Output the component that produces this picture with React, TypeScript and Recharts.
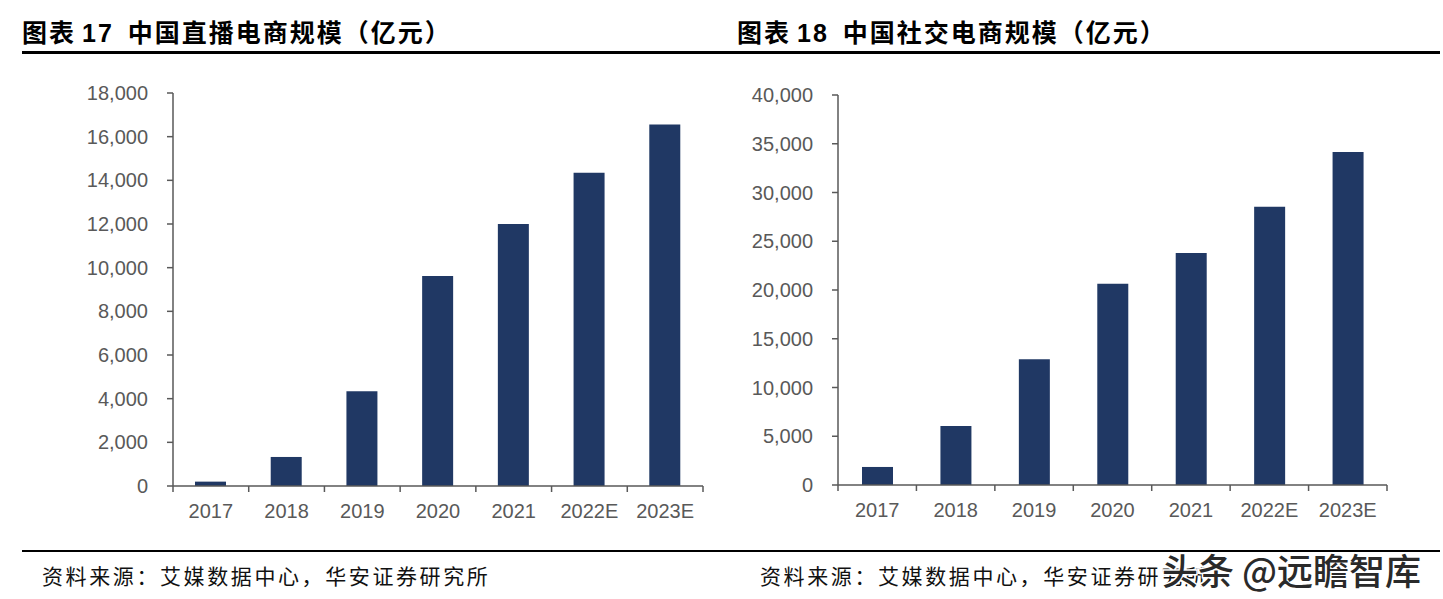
import { BarChart, Bar, XAxis, YAxis } from "recharts";

// 数据（亿元）
const years = ["2017", "2018", "2019", "2020", "2021", "2022E", "2023E"];
const liveValues = [200, 1330, 4340, 9620, 12000, 14350, 16560];
const socialValues = [1850, 6050, 12900, 20650, 23800, 28550, 34150];
const liveTicks = [0, 2000, 4000, 6000, 8000, 10000, 12000, 14000, 16000, 18000];
const socialTicks = [0, 5000, 10000, 15000, 20000, 25000, 30000, 35000, 40000];

const titleLeft = "中国直播电商规模（亿元）";
const titleRight = "中国社交电商规模（亿元）";
const source = "资料来源：艾媒数据中心，华安证券研究所";

const AXIS = "#595959";
const BAR = "#203864";
const NUM_FONT = "'Liberation Sans', Arial, sans-serif";
const CJK = "'Noto Sans CJK SC', sans-serif";

const fmt = (v: number) => v.toLocaleString("en-US");

// 分类标签 + 分类之间的刻度线（Excel 样式）
function CatTick(props: any) {
  const { x, y, payload, index, visibleTicksCount, width } = props;
  const half = payload?.offset ?? (width ? width / years.length / 2 : 38);
  const last = index === (visibleTicksCount ?? years.length) - 1;
  return (
    <g>
      <line x1={x - half} x2={x - half} y1={y} y2={y + 6} stroke={AXIS} strokeWidth={1.5} />
      {last && <line x1={x + half} x2={x + half} y1={y} y2={y + 6} stroke={AXIS} strokeWidth={1.5} />}
      <text x={x} y={y + 32} textAnchor="middle" fill={AXIS} fontSize={20} fontFamily={NUM_FONT}>
        {payload.value}
      </text>
    </g>
  );
}

type PanelProps = {
  values: number[];
  ticks: number[];
  left: number;
  width: number;
  top: number;
  plotHeight: number;
  yWidth: number;
  right: number;
  height: number;
};

function Panel({ values, ticks, left, width, top, plotHeight, yWidth, right, height }: PanelProps) {
  const data = years.map((year, i) => ({ year, value: values[i] }));
  return (
    <div style={{ position: "absolute", left, top: 0 }}>
      <BarChart width={width} height={height} data={data} margin={{ top, right, bottom: 0, left: 0 }}>
        <XAxis
          dataKey="year"
          interval={0}
          height={height - top - plotHeight}
          axisLine={{ stroke: AXIS, strokeWidth: 1.5 }}
          tickLine={false}
          tickSize={0}
          tickMargin={0}
          tick={<CatTick />}
        />
        <YAxis
          type="number"
          domain={[0, ticks[ticks.length - 1]]}
          ticks={ticks}
          interval={0}
          width={yWidth}
          tickSize={6}
          tickMargin={19}
          tickFormatter={fmt}
          axisLine={{ stroke: AXIS, strokeWidth: 1.5 }}
          tickLine={{ stroke: AXIS, strokeWidth: 1.5 }}
          tick={{ fill: AXIS, fontSize: 20, fontFamily: NUM_FONT }}
        />
        <Bar dataKey="value" fill={BAR} barSize={31} isAnimationActive={false} />
      </BarChart>
    </div>
  );
}

function Title({ num, text, left }: { num: string; text: string; left: number }) {
  return (
    <div
      style={{
        position: "absolute",
        left,
        top: 15,
        fontFamily: CJK,
        fontWeight: 700,
        fontSize: 25,
        letterSpacing: 2,
        lineHeight: "32px",
        color: "#000",
        whiteSpace: "nowrap",
      }}
    >
      图表
      <span style={{ fontFamily: "'Liberation Sans', Arial, sans-serif", marginLeft: 6, marginRight: 14 }}>{num}</span>
      {text}
    </div>
  );
}

function Source({ left }: { left: number }) {
  return (
    <div
      style={{
        position: "absolute",
        left,
        top: 562,
        fontFamily: CJK,
        fontSize: 21,
        letterSpacing: 2.6,
        lineHeight: "26px",
        color: "#111",
        whiteSpace: "nowrap",
      }}
    >
      {source}
    </div>
  );
}

export default function App() {
  return (
    <div style={{ position: "absolute", left: 0, top: 0, width: 1443, height: 599, background: "#fff", overflow: "hidden" }}>
      <Title num="17" text={titleLeft} left={22} />
      <Title num="18" text={titleRight} left={737} />
      <div style={{ position: "absolute", left: 22, top: 51, width: 1418, borderTop: "3px solid #000" }} />
      <Panel values={liveValues} ticks={liveTicks} left={0} width={720} height={540} top={93} plotHeight={393} yWidth={173} right={17} />
      <Panel values={socialValues} ticks={socialTicks} left={720} width={723} height={540} top={95} plotHeight={390} yWidth={118} right={56} />
      <div style={{ position: "absolute", left: 22, top: 550, width: 1418, borderTop: "2.5px solid #000" }} />
      <Source left={42} />
      <Source left={760} />
      <svg width={293} height={50} style={{ position: "absolute", left: 1150, top: 549 }}>
        <text
          x={12}
          y={36}
          fontFamily={CJK}
          fontSize={36}
          fontWeight={500}
          fill="#2a2a2a"
          stroke="#fff"
          strokeWidth={3}
          paintOrder="stroke"
        >
          头条 @远瞻智库
        </text>
      </svg>
    </div>
  );
}
